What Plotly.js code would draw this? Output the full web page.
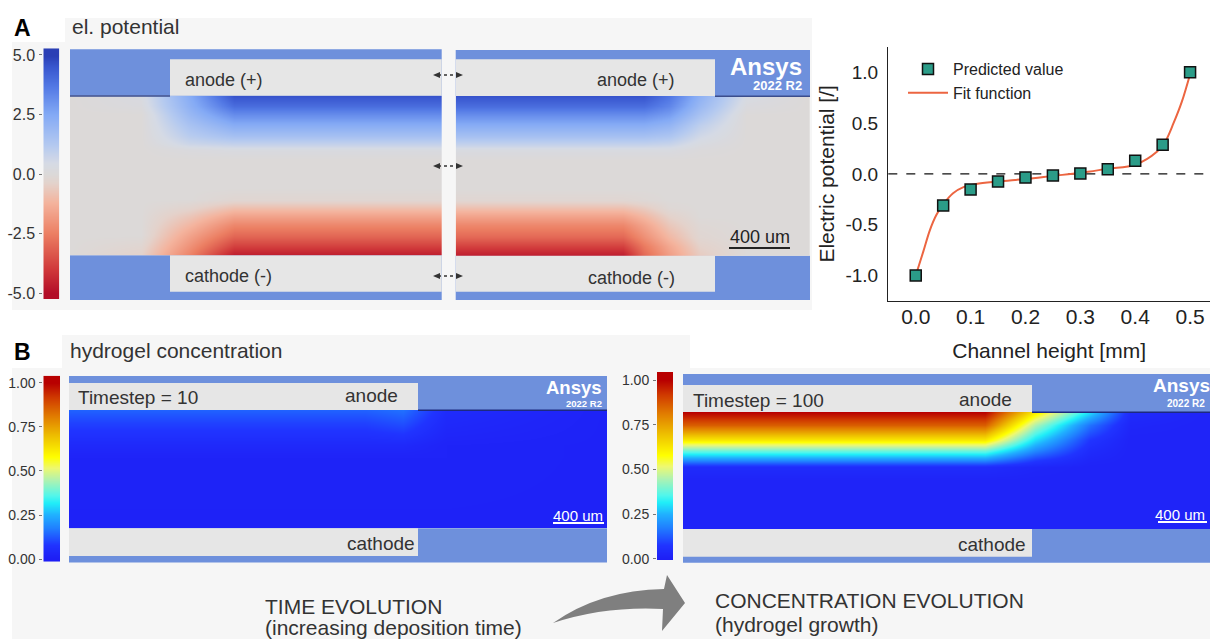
<!DOCTYPE html>
<html><head><meta charset="utf-8">
<script src="https://cdn.plot.ly/plotly-3.0.1.min.js"></script>
<style>html,body{margin:0;padding:0;background:#fff;}#chart{width:1210px;height:639px;}</style>
</head><body><div id="chart"></div>
<script>
// ---------- DATA: electric potential vs channel height ----------
const channelHeight = [0, 0.05, 0.1, 0.15, 0.2, 0.25, 0.3, 0.35, 0.4, 0.45, 0.5];
const predictedPotential = [-1.0, -0.31, -0.155, -0.075, -0.036, -0.016, 0.003, 0.046, 0.128, 0.285, 1.0];
const fitHeight = [0, 0.014, 0.026, 0.038, 0.05, 0.068, 0.087, 0.11, 0.15, 0.2, 0.25, 0.3, 0.35, 0.4, 0.44, 0.455, 0.47, 0.485, 0.5];
const fitPotential = [-1.0, -0.76, -0.55, -0.40, -0.30, -0.19, -0.13, -0.10, -0.075, -0.05, -0.02, 0.01, 0.05, 0.09, 0.22, 0.32, 0.5, 0.71, 0.98];
const xTickVals = [0, 0.1, 0.2, 0.3, 0.4, 0.5];
const xTickText = ['0.0', '0.1', '0.2', '0.3', '0.4', '0.5'];
const yTickVals = [-1, -0.5, 0, 0.5, 1];
const yTickText = ['-1.0', '-0.5', '0.0', '0.5', '1.0'];

// ---------- DATA: el. potential field (panel A) ----------
// rows: relative height from cathode (0) to anode (1); columns: relative position along image
const potRows = [0, 0.06, 0.12, 0.19, 0.25, 0.30, 0.35, 0.42, 0.60, 0.66, 0.70, 0.75, 0.82, 0.88, 0.94, 1.0];
const potColsLeft = [0, 0.19, 0.32, 0.44, 1];
const potLeft = [
  [0, -0.4, -2.4, -4.7, -4.7],
  [0, -0.2, -2.0, -3.8, -3.8],
  [0, 0, -1.6, -3.0, -3.0],
  [0, 0, -1.1, -2.3, -2.3],
  [0, 0, -0.7, -1.6, -1.6],
  [0, 0, -0.3, -0.9, -0.9],
  [0, 0, 0, -0.2, -0.2],
  [0, 0, 0, 0, 0],
  [0, 0, 0, 0, 0],
  [0, 0, 0.2, 0.3, 0.3],
  [0, 0, 0.7, 0.9, 0.9],
  [0, 0, 1.1, 1.6, 1.6],
  [0, 0, 1.5, 2.4, 2.4],
  [0, 0, 1.9, 3.2, 3.2],
  [0, 0.2, 2.2, 4.0, 4.0],
  [0, 0.3, 2.4, 4.6, 4.6]
];
const potColsRight = [0, 0.47, 0.53, 0.6, 0.69, 0.82, 1];
const potRight = [
  [-4.7, -4.7, -3.0, -1.8, -0.6, 0, 0],
  [-3.8, -3.8, -2.6, -1.5, -0.4, 0, 0],
  [-3.0, -3.0, -2.1, -1.1, -0.2, 0, 0],
  [-2.3, -2.3, -1.6, -0.7, -0.1, 0, 0],
  [-1.6, -1.6, -1.1, -0.4, 0, 0, 0],
  [-0.9, -0.9, -0.6, -0.1, 0, 0, 0],
  [-0.2, -0.2, -0.1, 0, 0, 0, 0],
  [0, 0, 0, 0, 0, 0, 0],
  [0, 0, 0, 0, 0, 0, 0],
  [0.3, 0.3, 0.3, 0.3, 0.1, 0, 0],
  [0.9, 0.9, 0.9, 0.8, 0.3, 0, 0],
  [1.6, 1.6, 1.6, 1.4, 0.6, 0, 0],
  [2.4, 2.4, 2.4, 2.1, 1.0, 0, 0],
  [3.2, 3.2, 3.2, 2.8, 1.5, 0, 0],
  [4.0, 4.0, 4.0, 3.4, 1.9, 0.2, 0],
  [4.6, 4.6, 4.6, 3.8, 2.2, 0.4, 0]
];
const potScale = [-5.3, -5, -4, -2.5, -1.2, -0.4, 0, 0.5, 1.2, 2.5, 3.7, 4.5, 5, 5.3];
const potTickVals = [5, 2.5, 0, -2.5, -5];
const potTickText = ['5.0', '2.5', '0.0', '-2.5', '-5.0'];

// ---------- DATA: hydrogel concentration (panel B) ----------
const gelRowsT10 = [0, 0.6, 0.7, 0.8, 0.9, 1.0];
const gelColsT10 = [0, 0.55, 0.62, 0.7, 1];
const gelT10 = [
  [0.015, 0.015, 0.015, 0.015, 0.015],
  [0.02, 0.02, 0.02, 0.02, 0.015],
  [0.04, 0.04, 0.04, 0.02, 0.015],
  [0.07, 0.07, 0.08, 0.03, 0.015],
  [0.10, 0.10, 0.12, 0.04, 0.015],
  [0.14, 0.14, 0.16, 0.05, 0.015]
];
const gelRowsT100 = [0, 0.41, 0.53, 0.59, 0.675, 0.76, 0.89, 1.0];
const gelColsT100 = [0, 0.573, 0.668, 0.772, 0.848, 1];
const gelT100 = [
  [0.02, 0.02, 0.02, 0.02, 0.02, 0.02],
  [0.02, 0.02, 0.02, 0.02, 0.02, 0.02],
  [0.05, 0.05, 0.03, 0.02, 0.02, 0.02],
  [0.20, 0.20, 0.09, 0.03, 0.02, 0.02],
  [0.40, 0.40, 0.20, 0.05, 0.02, 0.02],
  [0.62, 0.62, 0.30, 0.08, 0.02, 0.02],
  [0.86, 0.86, 0.45, 0.16, 0.03, 0.02],
  [1.0, 1.0, 0.62, 0.30, 0.05, 0.02]
];
const gelScale = [-0.05, 0, 0.08, 0.18, 0.25, 0.32, 0.36, 0.45, 0.52, 0.58, 0.7, 0.82, 0.92, 1, 1.05];
const gelTickVals = [0, 0.25, 0.5, 0.75, 1];
const gelTickText = ['0.00', '0.25', '0.50', '0.75', '1.00'];

// ---------- STYLE ----------
const W = 1210, H = 639;
const FONT = 'Liberation Sans, Arial, sans-serif';
const BAND = '#6e90dc', BOX = '#e6e6e6', BG = '#f6f6f6';
const potColors = [[0,'#b30d28'],[0.1,'#d0383a'],[0.25,'#ec7f63'],[0.38,'#f4b49e'],[0.46,'#e4d2cb'],[0.5,'#dcd9d8'],[0.55,'#d5dae5'],[0.62,'#b5caf0'],[0.75,'#84aaf5'],[0.87,'#5379e5'],[0.95,'#3a58d0'],[1,'#2b3fb5']];
const gelColors = [[0,'#1e1ef5'],[0.08,'#2034ff'],[0.18,'#2080ff'],[0.25,'#20b0ff'],[0.32,'#20eef8'],[0.36,'#50f6ec'],[0.45,'#b0f2b0'],[0.52,'#eef870'],[0.58,'#ffff00'],[0.7,'#eec000'],[0.82,'#e07800'],[0.92,'#cf3800'],[1,'#b80000']];

const dx = (a, b) => [a / W, b / W];
const dy = (a, b) => [1 - b / H, 1 - a / H];
const px = x => x / W, py = y => 1 - y / H;

function rect(x0, y0, x1, y1, color, layer) {
  return {type:'rect', xref:'paper', yref:'paper', x0:px(x0), x1:px(x1), y0:py(y1), y1:py(y0),
          fillcolor:color, line:{width:0}, layer: layer || 'below'};
}
function hline(x0, x1, y, color, width, dash) {
  return {type:'line', xref:'paper', yref:'paper', x0:px(x0), x1:px(x1), y0:py(y), y1:py(y),
          line:{color:color, width:width, dash:dash || 'solid'}, layer:'above'};
}
function pathPx(pts, color) {
  let d = '';
  pts.forEach(p => {
    if (typeof p === 'string') { d += p + ' '; }
    else { d += px(p[0]).toFixed(5) + ',' + py(p[1]).toFixed(5) + ' '; }
  });
  return {type:'path', xref:'paper', yref:'paper', path:d + 'Z', fillcolor:color, line:{width:0}, layer:'above'};
}
function txt(x, y, text, size, opts) {
  return Object.assign({xref:'paper', yref:'paper', x:px(x), y:py(y), text:text, showarrow:false,
    xanchor:'left', yanchor:'middle', font:{family:FONT, size:size, color:'#333'}}, opts || {});
}

// ---------- TRACES ----------
const rows2 = v => v.map(s => [s, s]);
const traces = [
  {type:'scatter', mode:'lines', x:fitHeight, y:fitPotential, name:'Fit function',
   line:{color:'#ec6541', width:2, shape:'spline', smoothing:1}, legendrank:2, xaxis:'x', yaxis:'y'},
  {type:'scatter', mode:'markers', x:channelHeight, y:predictedPotential, name:'Predicted value',
   marker:{symbol:'square', size:11, color:'#2b9c88', line:{color:'#111', width:1.5}}, legendrank:1, xaxis:'x', yaxis:'y'},
  {type:'heatmap', x:[0,1], y:potScale, z:rows2(potScale), zmin:-5, zmax:5, colorscale:potColors,
   zsmooth:'best', showscale:false, hoverinfo:'skip', xaxis:'x2', yaxis:'y2'},
  {type:'heatmap', x:potColsLeft, y:potRows, z:potLeft, zmin:-5, zmax:5, colorscale:potColors,
   zsmooth:'best', showscale:false, hoverinfo:'skip', xaxis:'x3', yaxis:'y3'},
  {type:'heatmap', x:potColsRight, y:potRows, z:potRight, zmin:-5, zmax:5, colorscale:potColors,
   zsmooth:'best', showscale:false, hoverinfo:'skip', xaxis:'x4', yaxis:'y4'},
  {type:'heatmap', x:[0,1], y:gelScale, z:rows2(gelScale), zmin:0, zmax:1, colorscale:gelColors,
   zsmooth:'best', showscale:false, hoverinfo:'skip', xaxis:'x5', yaxis:'y5'},
  {type:'heatmap', x:gelColsT10, y:gelRowsT10, z:gelT10, zmin:0, zmax:1, colorscale:gelColors,
   zsmooth:'best', showscale:false, hoverinfo:'skip', xaxis:'x6', yaxis:'y6'},
  {type:'heatmap', x:[0,1], y:gelScale, z:rows2(gelScale), zmin:0, zmax:1, colorscale:gelColors,
   zsmooth:'best', showscale:false, hoverinfo:'skip', xaxis:'x7', yaxis:'y7'},
  {type:'heatmap', x:gelColsT100, y:gelRowsT100, z:gelT100, zmin:0, zmax:1, colorscale:gelColors,
   zsmooth:'best', showscale:false, hoverinfo:'skip', xaxis:'x8', yaxis:'y8'}
];

// ---------- AXES ----------
const hidden = (d, r, anchor) => ({domain:d, range:r, visible:false, fixedrange:true, anchor:anchor});
function cbAxis(d, r, vals, text, size, anchor) {
  return {domain:d, range:r, anchor:anchor, showgrid:false, zeroline:false, showline:false,
          tickvals:vals, ticktext:text, ticks:'outside', ticklen:3, tickcolor:'#777',
          tickfont:{family:FONT, size:size, color:'#333'}, ticklabelstandoff:1, fixedrange:true};
}

const layout = {
  width:W, height:H, margin:{l:0, r:0, t:0, b:0},
  paper_bgcolor:'#ffffff', plot_bgcolor:'rgba(0,0,0,0)',
  font:{family:FONT, color:'#222'},
  showlegend:true,
  legend:{x:px(903), y:py(52), xanchor:'left', yanchor:'top', bgcolor:'rgba(0,0,0,0)', itemwidth:40,
          font:{family:FONT, size:16, color:'#222'}, tracegroupgap:0},
  xaxis:{domain:dx(888.3, 1210), range:[-0.05, 0.5363], anchor:'y', showline:true, linecolor:'#222', linewidth:1.3,
         showgrid:false, zeroline:false, ticks:'', tickvals:xTickVals, ticktext:xTickText,
         tickfont:{family:FONT, size:21, color:'#222'}, ticklabelstandoff:-4,
         title:{text:'Channel height [mm]', font:{family:FONT, size:21, color:'#222'}, standoff:16}},
  yaxis:{domain:dy(46.7, 301), range:[-1.25, 1.25], anchor:'x', showline:true, linecolor:'#222', linewidth:1.3,
         showgrid:false, zeroline:false, ticks:'', tickvals:yTickVals, ticktext:yTickText,
         tickfont:{family:FONT, size:19, color:'#222'}, ticklabelstandoff:5,
         title:{text:'Electric potential [/]', font:{family:FONT, size:21, color:'#222'}, standoff:5}},
  xaxis2:hidden(dx(43.3, 59.3), [0, 1], 'y2'),
  yaxis2:cbAxis(dy(48.3, 299), [-5.24, 5.28], potTickVals, potTickText, 16, 'x2'),
  xaxis3:hidden(dx(70, 441.7), [0, 1], 'y3'),
  yaxis3:hidden(dy(95.7, 255.3), [0, 1], 'x3'),
  xaxis4:hidden(dx(455.7, 810), [0, 1], 'y4'),
  yaxis4:hidden(dy(96, 255.7), [0, 1], 'x4'),
  xaxis5:hidden(dx(43.3, 60), [0, 1], 'y5'),
  yaxis5:cbAxis(dy(375.7, 561.7), [-0.015, 1.041], gelTickVals, gelTickText, 14, 'x5'),
  xaxis6:hidden(dx(69, 607), [0, 1], 'y6'),
  yaxis6:hidden(dy(410, 528.3), [0, 1], 'x6'),
  xaxis7:hidden(dx(657, 673), [0, 1], 'y7'),
  yaxis7:cbAxis(dy(372, 560), [-0.006, 1.045], gelTickVals, gelTickText, 14, 'x7'),
  xaxis8:hidden(dx(683, 1210), [0, 1], 'y8'),
  yaxis8:hidden(dy(412, 529), [0, 1], 'x8'),
  shapes:[
    rect(65, 18, 812, 310, BG), rect(12, 42, 65, 310, BG),
    rect(62, 335, 690, 370, BG), rect(12, 368, 1210, 639, BG),
    rect(70, 49.3, 441.7, 95.7, BAND), rect(170, 59.3, 441.7, 95.7, BOX),
    rect(70, 255.3, 441.7, 300, BAND), rect(170, 255.3, 441.7, 291.7, BOX),
    rect(455.7, 50, 810, 96, BAND), rect(455.7, 59.3, 715, 96, BOX),
    rect(455.7, 255.7, 810, 300, BAND), rect(455.7, 255.7, 715, 291.7, BOX),
    rect(69, 376, 607, 410, BAND), rect(69, 383, 418, 410, BOX),
    rect(69, 528.3, 607, 562.5, BAND), rect(69, 528.3, 418, 556, BOX),
    rect(683, 374, 1210, 412, BAND), rect(683, 385, 1032, 412, BOX),
    rect(683, 529, 1210, 562.7, BAND), rect(683, 529, 1032, 556.7, BOX),
    hline(70, 170, 96, '#3b4d8c', 1.5), hline(715, 810, 96.3, '#3b4d8c', 1.5),
    hline(418, 607, 410.3, '#1c2a80', 1.5), hline(1032, 1210, 412.3, '#1c2a80', 1.5),
    {type:'line', xref:'paper', yref:'y', x0:px(888.3), x1:1, y0:0, y1:0, line:{color:'#111', width:1.3, dash:'dash'}, layer:'below'},
    hline(438, 458, 75, '#333', 1.6, 'dot'), hline(438, 458, 166, '#333', 1.6, 'dot'), hline(438, 458, 276, '#333', 1.6, 'dot'),
    pathPx(['M', [433, 75], 'L', [440, 72], 'L', [440, 78]], '#333'),
    pathPx(['M', [463, 75], 'L', [456, 72], 'L', [456, 78]], '#333'),
    pathPx(['M', [433, 166], 'L', [440, 163], 'L', [440, 169]], '#333'),
    pathPx(['M', [463, 166], 'L', [456, 163], 'L', [456, 169]], '#333'),
    pathPx(['M', [433, 276], 'L', [440, 273], 'L', [440, 279]], '#333'),
    pathPx(['M', [463, 276], 'L', [456, 273], 'L', [456, 279]], '#333'),
    hline(729, 790, 248, '#222', 2), hline(553, 604, 523, '#ffffff', 2), hline(1158, 1207, 522, '#ffffff', 2),
    pathPx(['M', [553, 623], 'Q', [600, 590], [664, 589], 'L', [667, 575], 'L', [685, 603], 'L', [662, 631], 'L', [663, 609], 'Q', [605, 606], [553, 623]], '#7f7f7f')
  ],
  annotations:[
    txt(12, 28, '<b>A</b>', 23, {font:{family:FONT, size:23, color:'#000'}}),
    txt(70, 27, 'el. potential', 21),
    txt(183, 80, 'anode (+)', 18),
    txt(183, 276, 'cathode (-)', 18),
    txt(677, 80, 'anode (+)', 18, {xanchor:'right'}),
    txt(677, 278, 'cathode (-)', 18, {xanchor:'right'}),
    txt(766, 66, '<b>Ansys</b>', 24, {xanchor:'center', font:{family:FONT, size:24, color:'#ffffff'}}),
    txt(804, 85, '<b>2022 R2</b>', 13, {xanchor:'right', font:{family:FONT, size:13, color:'#ffffff'}}),
    txt(760, 237, '400 um', 18, {xanchor:'center', font:{family:FONT, size:18, color:'#222'}}),
    txt(12, 352, '<b>B</b>', 23, {font:{family:FONT, size:23, color:'#000'}}),
    txt(68, 350, 'hydrogel concentration', 21),
    txt(76, 397, 'Timestep = 10', 19),
    txt(400, 396, 'anode', 19, {xanchor:'right'}),
    txt(417, 543, 'cathode', 19, {xanchor:'right'}),
    txt(604, 387, '<b>Ansys</b>', 18.5, {xanchor:'right', font:{family:FONT, size:18.5, color:'#ffffff'}}),
    txt(604, 403, '<b>2022 R2</b>', 9.5, {xanchor:'right', font:{family:FONT, size:9.5, color:'#ffffff'}}),
    txt(578, 515, '400 um', 15, {xanchor:'center', font:{family:FONT, size:15, color:'#ffffff'}}),
    txt(691, 400, 'Timestep = 100', 19),
    txt(1014, 399, 'anode', 19, {xanchor:'right'}),
    txt(1028, 544, 'cathode', 19, {xanchor:'right'}),
    txt(1151, 385, '<b>Ansys</b>', 19, {font:{family:FONT, size:19, color:'#ffffff'}}),
    txt(1207, 403, '<b>2022 R2</b>', 10, {xanchor:'right', font:{family:FONT, size:10, color:'#ffffff'}}),
    txt(1207, 514, '400 um', 15, {xanchor:'right', font:{family:FONT, size:15, color:'#ffffff'}}),
    txt(263, 606, 'TIME EVOLUTION', 21),
    txt(263, 627, '(increasing deposition time)', 21),
    txt(713, 600, 'CONCENTRATION EVOLUTION', 21),
    txt(713, 624, '(hydrogel growth)', 21)
  ]
};

Plotly.newPlot('chart', traces, layout, {displayModeBar:false, staticPlot:true});
</script>
</body></html>
